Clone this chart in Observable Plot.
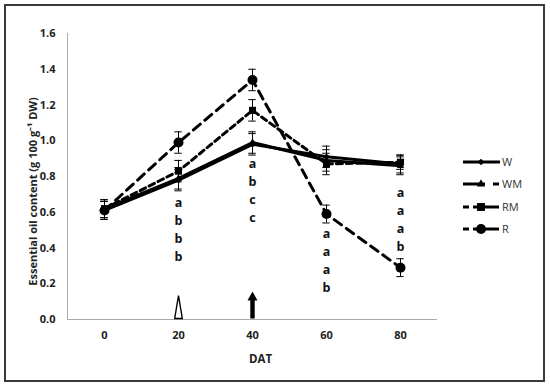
<!DOCTYPE html>
<html>
<head>
<meta charset="utf-8">
<script src="https://cdn.jsdelivr.net/npm/d3@7"></script>
<script src="https://cdn.jsdelivr.net/npm/@observablehq/plot@0.6"></script>
<style>
  body { margin: 0; background: #fff; }
  #wrap { position: relative; width: 550px; height: 388px; overflow: hidden; font-family: "Open Sans", sans-serif; }
  #frame { position: absolute; left: 4px; top: 4px; width: 537px; height: 374px; border: 2px solid #3a3a3a; pointer-events: none; }
  #legend { position: absolute; left: 455px; top: 150px; }
</style>
</head>
<body>
<div id="wrap"><div id="frame"></div></div>
<script>
// ---- data ----
const dat = [0, 20, 40, 60, 80];
const seriesNames = ["W", "WM", "RM", "R"];
const valW  = [0.61, 0.78, 0.98, 0.91, 0.87];
const valWM = [0.62, 0.79, 0.99, 0.89, 0.86];
const valRM = [0.62, 0.83, 1.17, 0.87, 0.88];
const valR  = [0.61, 0.99, 1.34, 0.59, 0.29];
const errW  = [0.05, 0.06, 0.06, 0.06, 0.05];
const errWM = [0.05, 0.06, 0.06, 0.06, 0.05];
const errRM = [0.05, 0.06, 0.06, 0.06, 0.04];
const errR  = [0.05, 0.06, 0.06, 0.05, 0.05];
const letterDat = [20, 40, 60, 80];
const letters = [["a","b","b","b"], ["a","b","c","c"], ["a","a","a","b"], ["a","a","a","b"]];
const letterTop = [0.65, 0.87, 0.48, 0.71];
const yTicks = [0, 0.2, 0.4, 0.6, 0.8, 1.0, 1.2, 1.4, 1.6];
const xTicks = [0, 20, 40, 60, 80];
const yTitle = "Essential oil content (g 100 g\u207B\u00B9 DW)";
const xTitle = "DAT";
const arrowMarks = [{dat: 20, kind: "open"}, {dat: 40, kind: "filled"}];

const vals = {W: valW, WM: valWM, RM: valRM, R: valR};
const errs = {W: errW, WM: errWM, RM: errRM, R: errR};
const rows = [];
for (const s of seriesNames) dat.forEach((d, i) => rows.push({series: s, dat: d, value: vals[s][i], err: errs[s][i]}));
const letterRows = [];
letterDat.forEach((d, j) => letters[j].forEach((l, i) => letterRows.push({dat: d, y: letterTop[j], row: i, label: l})));

const styles = {
  W:  {dash: null, width: 3, symbol: "diamond2", r: 3},
  WM: {dash: null, width: 3, symbol: "triangle2", r: 3.5},
  RM: {dash: "6,4", width: 3, symbol: "square2", r: 4.5},
  R:  {dash: "9,6", width: 3, symbol: "circle", r: 5}
};

const openTri = {draw(ctx) { ctx.moveTo(-3.8, -1); ctx.lineTo(0, -24); ctx.lineTo(3.8, -1); ctx.closePath(); }};
const filledArrow = {draw(ctx) {
  ctx.moveTo(-2.2, -1); ctx.lineTo(-2.2, -19); ctx.lineTo(-5, -19); ctx.lineTo(0, -28);
  ctx.lineTo(5, -19); ctx.lineTo(2.2, -19); ctx.lineTo(2.2, -1); ctx.closePath(); }};

const marks = [
  Plot.ruleX([-10], {stroke: "#aaa", strokeWidth: 1, y1: 0, y2: 1.6}),
  Plot.ruleY([0], {stroke: "#aaa", strokeWidth: 1}),
];
// error bars
for (const s of seriesNames) {
  const d = rows.filter(r => r.series === s);
  marks.push(Plot.ruleX(d, {x: "dat", y1: r => r.value - r.err, y2: r => r.value + r.err, stroke: "#000", strokeWidth: 1}));
  marks.push(Plot.ruleY(d, {y: r => r.value - r.err, x1: r => r.dat - 1, x2: r => r.dat + 1, stroke: "#000", strokeWidth: 1}));
  marks.push(Plot.ruleY(d, {y: r => r.value + r.err, x1: r => r.dat - 1, x2: r => r.dat + 1, stroke: "#000", strokeWidth: 1}));
}
for (const s of ["R", "RM", "WM", "W"]) {
  const d = rows.filter(r => r.series === s);
  const st = styles[s];
  marks.push(Plot.line(d, {x: "dat", y: "value", stroke: "#000", strokeWidth: st.width, strokeDasharray: st.dash}));
  marks.push(Plot.dot(d, {x: "dat", y: "value", symbol: () => st.symbol, r: st.r, fill: "#000", stroke: "none"}));
}
for (let i = 0; i < 4; i++) {
  marks.push(Plot.text(letterRows.filter(r => r.row === i), {x: "dat", y: "y", text: "label", dy: i * 18, fontSize: 12.5, fontWeight: 700, fill: "#111"}));
}
marks.push(Plot.dot(arrowMarks.filter(a => a.kind === "open"), {x: "dat", y: () => 0, symbol: () => openTri, fill: "#fff", stroke: "#000", strokeWidth: 1.4}));
marks.push(Plot.dot(arrowMarks.filter(a => a.kind === "filled"), {x: "dat", y: () => 0, symbol: () => filledArrow, fill: "#000", stroke: "none"}));
marks.push(Plot.axisY({ticks: yTicks, tickSize: 0, tickPadding: 12, tickFormat: d3.format(".1f"), fontSize: 11, fontWeight: 700, label: null}));
marks.push(Plot.axisX({ticks: xTicks, tickSize: 0, tickPadding: 12, fontSize: 11, fontWeight: 700, label: null}));
marks.push(Plot.text([yTitle], {frameAnchor: "left", textAnchor: "middle", rotate: -90, dx: -34, dy: 15, fontSize: 11, fontWeight: 700, fill: "#222"}));
marks.push(Plot.text([xTitle], {frameAnchor: "bottom", dx: 8, dy: 43, fontSize: 11.5, fontWeight: 700, fill: "#222"}));

const chart = Plot.plot({
  width: 550, height: 388,
  marginLeft: 67, marginRight: 113, marginTop: 33, marginBottom: 69,
  x: {domain: [-10, 90]},
  y: {domain: [0, 1.6]},
  style: {fontFamily: "'Open Sans', sans-serif", color: "#222", background: "transparent", overflow: "visible"},
  marks
});
document.getElementById("wrap").prepend(chart);

// legend
const leg = d3.select("#wrap").append("svg").attr("id", "legend").attr("width", 90).attr("height", 100)
  .style("font-family", "'Open Sans', sans-serif");
const legY = [12, 34, 57, 79];
const sym = {W: d3.symbolDiamond2, WM: d3.symbolTriangle2, RM: d3.symbolSquare2, R: d3.symbolCircle};
const symSize = {W: 28, WM: 50, RM: 80, R: 80};
seriesNames.forEach((name, idx) => {
  const g = leg.append("g").attr("transform", `translate(0,${legY[idx]})`);
  if (name === "W") g.append("line").attr("x1", 8).attr("x2", 45).attr("stroke", "#000").attr("stroke-width", 3);
  if (name === "WM") {
    g.append("line").attr("x1", 8).attr("x2", 30).attr("stroke", "#000").attr("stroke-width", 3);
    g.append("line").attr("x1", 38).attr("x2", 44).attr("stroke", "#000").attr("stroke-width", 3);
  }
  if (name === "RM" || name === "R") {
    g.append("line").attr("x1", 8).attr("x2", 14).attr("stroke", "#000").attr("stroke-width", 3);
    g.append("line").attr("x1", 18).attr("x2", 44).attr("stroke", "#000").attr("stroke-width", 3);
  }
  g.append("path").attr("transform", "translate(26,0)").attr("d", d3.symbol(sym[name], symSize[name])());
  g.append("text").attr("x", 47).attr("y", 4).attr("font-size", 11).attr("fill", "#333").text(name);
});
</script>
</body>
</html>
